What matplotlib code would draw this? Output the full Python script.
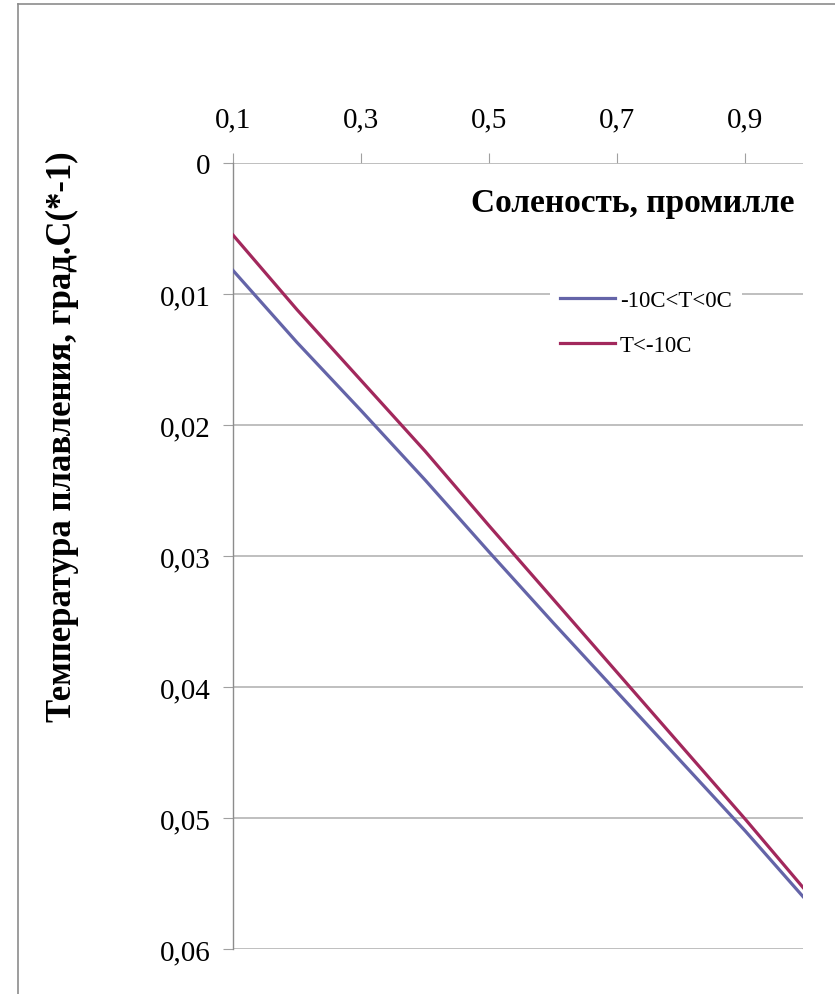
import matplotlib.pyplot as plt
from matplotlib.lines import Line2D

# соленость, промилле
salinity = [0.1, 0.2, 0.3, 0.4, 0.5, 0.6, 0.7, 0.8, 0.9, 0.99]
# температура плавления (со знаком минус), -10C<T<0C
t_warm = [0.0082, 0.0137, 0.0189, 0.0242, 0.0297, 0.0351, 0.0404, 0.0457, 0.0510, 0.0560]
# температура плавления (со знаком минус), T<-10C
t_cold = [0.0055, 0.0112, 0.0166, 0.0220, 0.0277, 0.0333, 0.0389, 0.0445, 0.0501, 0.0553]

x_ticks = [0.1, 0.3, 0.5, 0.7, 0.9]
x_tick_labels = ['0,1', '0,3', '0,5', '0,7', '0,9']
y_ticks = [0, 0.01, 0.02, 0.03, 0.04, 0.05, 0.06]
y_tick_labels = ['0', '0,01', '0,02', '0,03', '0,04', '0,05', '0,06']

plt.rcParams['font.family'] = ['Liberation Serif', 'DejaVu Serif']

W, H = 835, 995
fig = plt.figure(figsize=(W / 100, H / 100), dpi=100)

# рамка области диаграммы
fig.add_artist(Line2D([18 / W, 18 / W], [0, 1 - 5 / H], color='#8c8c8c', lw=1.2))
fig.add_artist(Line2D([18 / W, 1], [1 - 5 / H, 1 - 5 / H], color='#8c8c8c', lw=1.2))

left, right, top, bottom = 233, 803, 164, 950
ax = fig.add_axes([left / W, 1 - bottom / H, (right - left) / W, (bottom - top) / H])

ax.plot(salinity, t_warm, color='#6464a8', lw=2.3, label='-10C<T<0C', zorder=3)
ax.plot(salinity, t_cold, color='#a2285c', lw=2.3, label='T<-10C', zorder=3)

ax.set_xlim(0.1, 0.99)
ax.set_ylim(0.06, 0)

ax.xaxis.tick_top()
ax.set_xticks(x_ticks)
ax.set_xticklabels(x_tick_labels, fontsize=21)
ax.set_yticks(y_ticks)
ax.set_yticklabels(y_tick_labels, fontsize=21)
ax.tick_params(axis='x', direction='out', length=7, width=0.8, color='#a0a0a0', pad=15)
ax.tick_params(axis='y', direction='out', length=7, width=0.8, color='#a0a0a0', pad=9)

ax.grid(axis='y', color='#b4b4b4', lw=1.2)
ax.set_axisbelow(True)
for side in ['right', 'bottom', 'top']:
    ax.spines[side].set_visible(False)
ax.spines['left'].set_color('#8c8c8c')
ax.spines['left'].set_linewidth(1.0)

ax.text(0.985, 0.95, 'Соленость, промилле', transform=ax.transAxes,
        ha='right', va='center', fontsize=24, fontweight='bold')

leg = ax.legend(loc='upper left', bbox_to_anchor=((550 - left) / (right - left), 0.852),
                fontsize=16.5, frameon=True, fancybox=False, handlelength=2.4,
                handletextpad=0.2, labelspacing=1.05, borderpad=0.45, borderaxespad=0)
leg.get_frame().set_facecolor('white')
leg.get_frame().set_edgecolor('none')
leg.get_frame().set_alpha(1)

fig.text(62 / W, 1 - 437 / H, 'Температура плавления, град.С(*-1)', rotation=90,
         ha='center', va='center', fontsize=25, fontweight='bold')

plt.savefig('out.png', dpi=100)
plt.close()
